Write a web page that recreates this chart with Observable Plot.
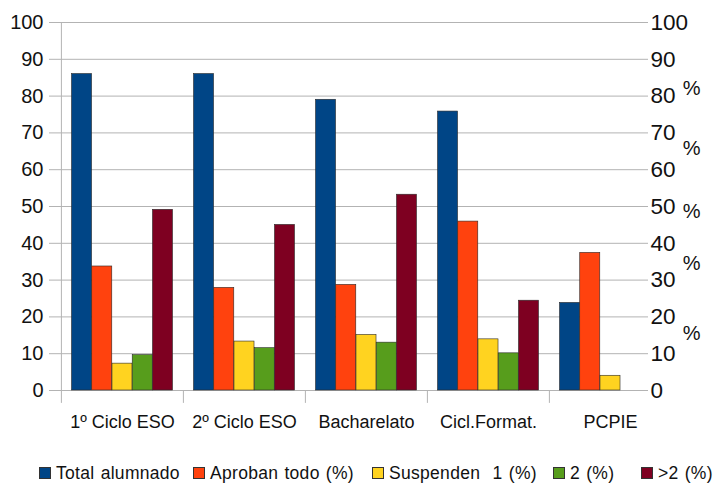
<!DOCTYPE html>
<html>
<head>
<meta charset="utf-8">
<script src="https://cdn.jsdelivr.net/npm/d3@7"></script>
<script src="https://cdn.jsdelivr.net/npm/@observablehq/plot@0.6"></script>
<style>
  body { margin: 0; background: #ffffff; font-family: "Liberation Sans", Arial, sans-serif; }
  #chart { width: 713px; }
  .legend { display: flex; align-items: center; height: 30px; margin-top: 18px; padding-left: 39px; font-size: 17.5px; color: #111; white-space: pre; letter-spacing: 0.3px; word-spacing: 1px; }
  .legend .item { display: flex; align-items: center; flex: none; }
  .legend .sw { width: 10px; height: 10px; border: 0.5px solid #333; margin-right: 5px; flex: none; }
</style>
</head>
<body>
<div id="chart"></div>
<script>
const categories = ["1º Ciclo ESO", "2º Ciclo ESO", "Bacharelato", "Cicl.Format.", "PCPIE"];
const seriesNames = ["Total alumnado", "Aproban todo (%)", "Suspenden  1 (%)", "2 (%)", ">2 (%)"];
const colors = ["#004586", "#ff420e", "#ffd320", "#579d1c", "#7e0021"];
const totalAlumnado = [86, 86, 79, 75.8, 23.8];
const aprobanTodo = [33.7, 27.9, 28.7, 45.9, 37.4];
const suspenden1 = [7.3, 13.3, 15.1, 13.9, 4.0];
const suspenden2 = [9.6, 11.5, 13, 10.1, null];
const suspendenMas2 = [49.1, 45, 53.2, 24.4, null];
const yTicks = [0, 10, 20, 30, 40, 50, 60, 70, 80, 90, 100];
const pctMarks = [82, 65.8, 48.6, 34.5, 15.5];
const legendItemWidths = [154, 179, 181, 88, null];

const seriesValues = [totalAlumnado, aprobanTodo, suspenden1, suspenden2, suspendenMas2];
const rows = [];
categories.forEach((c, ci) => {
  seriesValues.forEach((vals, si) => {
    if (vals[ci] != null) rows.push({cat: c, series: si, value: vals[ci]});
  });
});

const W = 713, H = 440;
const mL = 60, mR = 65, mT = 22, mB = 50;
const xRange = [60, 671];
const bw = (xRange[1] - xRange[0]) / categories.length;
const groupPad = 10.5;
const barW = (bw - 2 * groupPad) / seriesNames.length;

const barMarks = seriesNames.map((name, si) =>
  Plot.barY(rows.filter(r => r.series === si), {
    x: "cat", y: "value",
    fill: colors[si], stroke: "#2a2a2a", strokeWidth: 0.6,
    insetLeft: groupPad + si * barW,
    insetRight: bw - groupPad - (si + 1) * barW
  })
);

const plot = Plot.plot({
  width: W, height: H,
  marginLeft: mL, marginRight: mR, marginTop: mT, marginBottom: mB,
  style: {fontFamily: "Liberation Sans, Arial, sans-serif", color: "#111", background: "#ffffff"},
  x: {domain: categories, range: xRange, padding: 0, axis: null},
  y: {domain: [0, 100], axis: null},
  marks: [
    Plot.ruleY(yTicks, {stroke: "#b3b3b3", strokeWidth: 1}),
    Plot.axisY(yTicks, {anchor: "left", tickSize: 11, tickPadding: 6, fontSize: 20, stroke: "#b3b3b3", label: null}),
    Plot.axisY(yTicks, {anchor: "right", tickSize: 0, tickPadding: 2, fontSize: 22.5, label: null}),
    Plot.ruleX([categories[0]], {x: d => d, y1: 100, y2: -3.5, stroke: "#b3b3b3", dx: -bw / 2}),
    Plot.ruleX(categories.slice(1), {x: d => d, y1: 0, y2: -3.5, stroke: "#b3b3b3", dx: -bw / 2}),
    ...barMarks,
    Plot.axisX({anchor: "bottom", tickSize: 0, tickPadding: 25, fontSize: 18, label: null}),
    Plot.text(pctMarks, {y: d => d, frameAnchor: "right", dx: 52, text: () => "%", fontSize: 20, fill: "#111"})
  ]
});
document.getElementById("chart").appendChild(plot);

const legend = document.createElement("div");
legend.className = "legend";
seriesNames.forEach((name, i) => {
  const item = document.createElement("div");
  item.className = "item";
  if (legendItemWidths[i] != null) item.style.width = legendItemWidths[i] + "px";
  const sw = document.createElement("span");
  sw.className = "sw";
  sw.style.background = colors[i];
  const t = document.createElement("span");
  t.textContent = name;
  item.appendChild(sw);
  item.appendChild(t);
  legend.appendChild(item);
});
document.getElementById("chart").appendChild(legend);
</script>
</body>
</html>
